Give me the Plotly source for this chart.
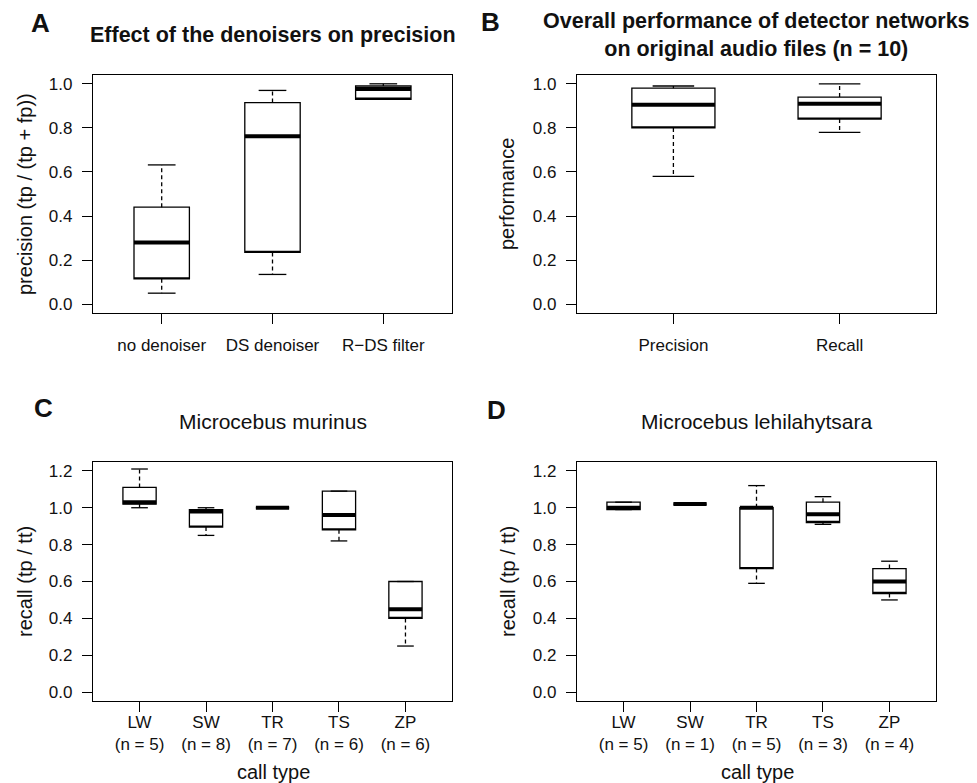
import plotly.graph_objects as go

# ---------------- data ----------------
A_cats = ["no denoiser", "DS denoiser", "R\u2212DS filter"]
A_lower = [0.05, 0.135, 0.93]
A_q1 = [0.115, 0.235, 0.93]
A_med = [0.28, 0.762, 0.976]
A_q3 = [0.44, 0.915, 0.99]
A_upper = [0.632, 0.97, 1.0]

B_cats = ["Precision", "Recall"]
B_lower = [0.58, 0.78]
B_q1 = [0.80, 0.84]
B_med = [0.905, 0.91]
B_q3 = [0.98, 0.94]
B_upper = [0.99, 1.0]

C_cats = ["LW", "SW", "TR", "TS", "ZP"]
C_n = [5, 8, 7, 6, 6]
C_lower = [1.0, 0.85, 1.0, 0.82, 0.25]
C_q1 = [1.02, 0.895, 1.0, 0.88, 0.40]
C_med = [1.03, 0.98, 1.0, 0.96, 0.45]
C_q3 = [1.11, 0.99, 1.0, 1.09, 0.60]
C_upper = [1.21, 1.0, 1.0, 1.09, 0.60]

D_cats = ["LW", "SW", "TR", "TS", "ZP"]
D_n = [5, 1, 5, 3, 4]
D_lower = [0.99, 1.02, 0.59, 0.91, 0.50]
D_q1 = [0.99, 1.02, 0.67, 0.92, 0.535]
D_med = [1.0, 1.02, 1.0, 0.965, 0.60]
D_q3 = [1.03, 1.02, 1.0, 1.03, 0.67]
D_upper = [1.03, 1.02, 1.12, 1.06, 0.71]

A_yticks = [0.0, 0.2, 0.4, 0.6, 0.8, 1.0]
C_yticks = [0.0, 0.2, 0.4, 0.6, 0.8, 1.0, 1.2]

# ---------------- style ----------------
W, H = 977, 783
FONT = "Liberation Sans, Arial, Helvetica, sans-serif"
LW = 1.3
BOXW = 0.5
CAPW = 0.25

fig = go.Figure()


def add_panel(xa, ya, lower, q1, med, q3, upper):
    pos = list(range(1, len(q1) + 1))
    fig.add_trace(go.Box(
        x=pos, q1=q1, median=q1, q3=q3, lowerfence=q1, upperfence=q3,
        width=BOXW, fillcolor="white", line=dict(color="black", width=LW),
        boxpoints=False, whiskerwidth=0, xaxis=xa, yaxis=ya, showlegend=False,
        hoverinfo="skip"))
    wx, wy, cx, cy, mx, my = [], [], [], [], [], []
    for p, lo, a, m, b, hi in zip(pos, lower, q1, med, q3, upper):
        wx += [p, p, None, p, p, None]
        wy += [b, hi, None, a, lo, None]
        cx += [p - CAPW / 2, p + CAPW / 2, None, p - CAPW / 2, p + CAPW / 2, None]
        cy += [hi, hi, None, lo, lo, None]
        mx += [p - BOXW / 2, p + BOXW / 2, None]
        my += [m, m, None]
    fig.add_trace(go.Scatter(x=wx, y=wy, mode="lines", xaxis=xa, yaxis=ya,
                             line=dict(color="black", width=LW, dash="4px,3px"),
                             showlegend=False, hoverinfo="skip"))
    fig.add_trace(go.Scatter(x=cx, y=cy, mode="lines", xaxis=xa, yaxis=ya,
                             line=dict(color="black", width=LW),
                             showlegend=False, hoverinfo="skip"))
    fig.add_trace(go.Scatter(x=mx, y=my, mode="lines", xaxis=xa, yaxis=ya,
                             line=dict(color="black", width=4),
                             showlegend=False, hoverinfo="skip"))
    return pos


posA = add_panel("x", "y", A_lower, A_q1, A_med, A_q3, A_upper)
posB = add_panel("x2", "y2", B_lower, B_q1, B_med, B_q3, B_upper)
posC = add_panel("x3", "y3", C_lower, C_q1, C_med, C_q3, C_upper)
posD = add_panel("x4", "y4", D_lower, D_q1, D_med, D_q3, D_upper)


def px_dom(a, b, total, flip=False):
    if flip:
        return [1 - b / total, 1 - a / total]
    return [a / total, b / total]


def xrng(n):
    span = n
    return [0.5 - 0.04 * span, n + 0.5 + 0.04 * span]


def yrng(lo, hi):
    span = hi - lo
    return [lo - 0.04 * span, hi + 0.04 * span]


common_axis = dict(showline=True, mirror=True, linecolor="black", linewidth=LW,
                   ticks="outside", ticklen=10, tickwidth=LW, tickcolor="black",
                   showgrid=False, zeroline=False,
                   tickfont=dict(family=FONT, size=17, color="#111"))

left = px_dom(93, 452, W)
right = px_dom(577, 936, W)
top = px_dom(75, 313, H, flip=True)
bot = px_dom(462, 701, H, flip=True)

layout = dict(
    width=W, height=H, margin=dict(l=0, r=0, t=0, b=0),
    paper_bgcolor="white", plot_bgcolor="white", showlegend=False,
    font=dict(family=FONT, color="#111"),
)


def xaxis(dom, pos, text, anchor, standoff):
    d = dict(common_axis)
    d.update(domain=dom, range=xrng(len(pos)), tickvals=pos, ticktext=text,
             anchor=anchor, ticklabelstandoff=standoff)
    return d


def yaxis(dom, ticks, rng, anchor):
    d = dict(common_axis)
    d.update(domain=dom, range=rng, tickvals=ticks,
             ticktext=["%.1f" % t for t in ticks], anchor=anchor,
             ticklabelstandoff=6)
    return d


C_text = ["%s<br>(n = %d)" % (c, n) for c, n in zip(C_cats, C_n)]
D_text = ["%s<br>(n = %d)" % (c, n) for c, n in zip(D_cats, D_n)]
layout["xaxis"] = xaxis(left, posA, A_cats, "y", 6)
layout["xaxis2"] = xaxis(right, posB, B_cats, "y2", 6)
layout["xaxis3"] = xaxis(left, posC, C_text, "y3", -5)
layout["xaxis4"] = xaxis(right, posD, D_text, "y4", -5)
layout["yaxis"] = yaxis(top, A_yticks, yrng(0, 1), "x")
layout["yaxis2"] = yaxis(top, A_yticks, yrng(0, 1), "x2")
layout["yaxis3"] = yaxis(bot, C_yticks, yrng(0, 1.2), "x3")
layout["yaxis4"] = yaxis(bot, C_yticks, yrng(0, 1.2), "x4")
fig.update_layout(**layout)


def ann(text, x, y, size, bold=False, angle=0):
    if bold:
        text = "<b>%s</b>" % text
    fig.add_annotation(text=text, x=x / W, y=1 - y / H, xref="paper", yref="paper",
                       xanchor="center", yanchor="middle", showarrow=False,
                       textangle=angle, font=dict(family=FONT, size=size, color="#111"))


# panel letters
ann("A", 40, 23, 26, bold=True)
ann("B", 491, 22, 26, bold=True)
ann("C", 43, 408, 26, bold=True)
ann("D", 497, 410, 26, bold=True)

# titles
ann("Effect of the denoisers on precision", 272.5, 35, 21.5, bold=True)
ann("Overall performance of detector networks<br>on original audio files (n = 10)", 756.5, 35, 21.5, bold=True)
ann("Microcebus murinus", 272.5, 422, 21)
ann("Microcebus lehilahytsara", 756.5, 421, 21)

# axis titles
ann("precision (tp / (tp + fp))", 25, 194, 20, angle=-90)
ann("performance", 507, 194, 20, angle=-90)
ann("recall (tp / tt)", 25, 582, 20, angle=-90)
ann("recall (tp / tt)", 508, 582, 20, angle=-90)
ann("call type", 273, 772, 20)
ann("call type", 757, 772, 20)

fig.write_html("out.html", config={"displayModeBar": False},
               post_script="document.body.style.margin='0';document.body.style.overflow='hidden';")
